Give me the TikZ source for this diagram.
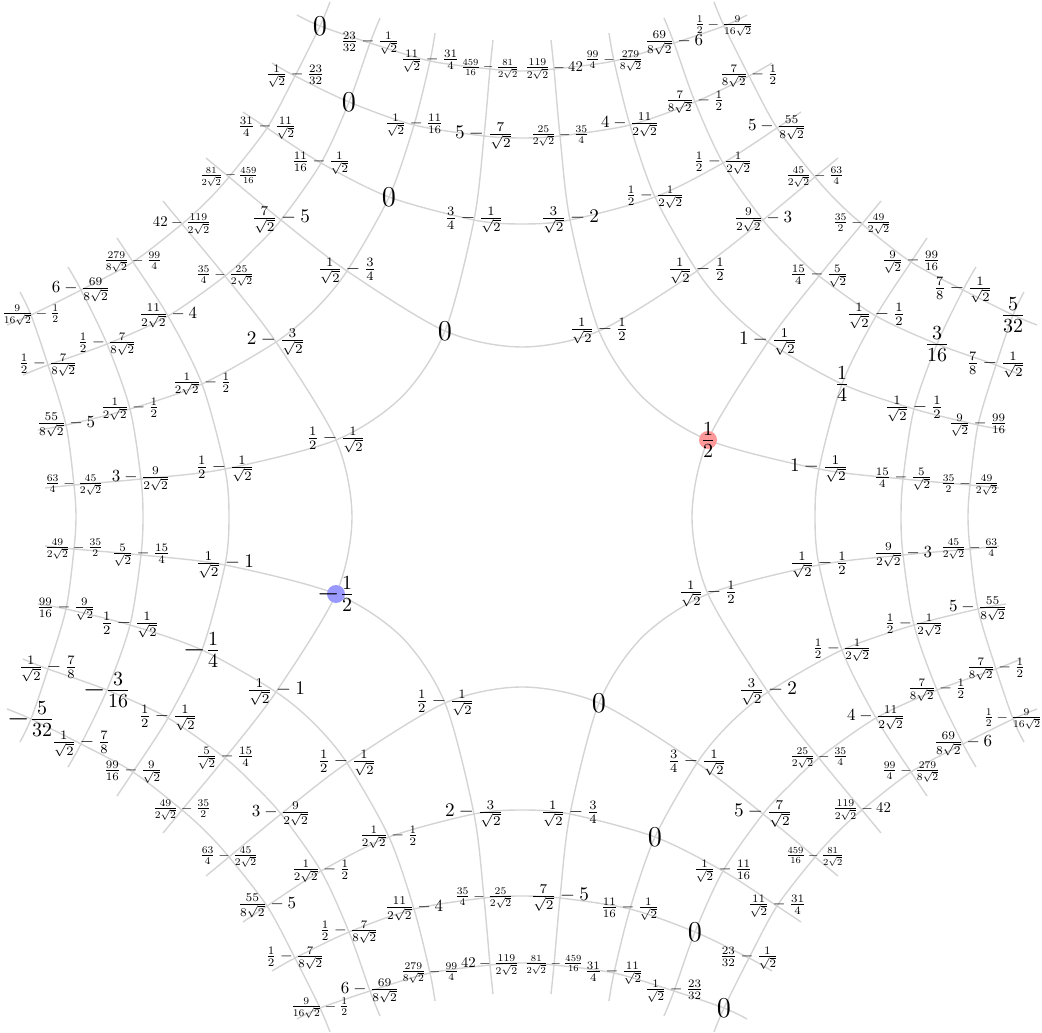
\documentclass[tikz,border=0pt]{standalone}
\usepackage{graphicx}
\newcommand{\fitv}[1]{\resizebox{29pt}{!}{$#1$}}

\begin{document}
\begin{tikzpicture}[
  x=0.5pt, y=-0.5pt,
  arcline/.style={draw=Cline, line width=0.7pt},
  val/.style={inner sep=0pt},
  big/.style={inner sep=0pt, font=\Large}
]
\colorlet{Cline}{black!17}
\colorlet{Cred}{red!40}
\colorlet{Cblue}{blue!40}
\useasboundingbox (-522,-517) rectangle (520,515);
%% CROSSING POINTS: one sector, turned four times
\foreach \sect/\ang in {T/0,R/-90,B/180,L/90}{
\begin{scope}[rotate=\ang]
\coordinate (\sect1a) at (-202,-491);
\coordinate (\sect1b) at (-152,-474);
\coordinate (\sect1c) at ( -92,-456);
\coordinate (\sect1d) at ( -32,-448);
\coordinate (\sect1e) at (  32,-448);
\coordinate (\sect1f) at (  92,-456);
\coordinate (\sect1g) at ( 152,-474);
\coordinate (\sect1h) at ( 202,-491);
\coordinate (\sect2a) at (-227,-441);
\coordinate (\sect2b) at (-173,-415);
\coordinate (\sect2c) at (-108,-392);
\coordinate (\sect2d) at ( -38,-381);
\coordinate (\sect2e) at (  38,-381);
\coordinate (\sect2f) at ( 108,-392);
\coordinate (\sect2g) at ( 173,-415);
\coordinate (\sect2h) at ( 227,-441);
\coordinate (\sect3a) at (-255,-389);
\coordinate (\sect3b) at (-201,-354);
\coordinate (\sect3c) at (-133,-320);
\coordinate (\sect3d) at ( -48,-297);
\coordinate (\sect3e) at (  48,-297);
\coordinate (\sect3f) at ( 133,-320);
\coordinate (\sect3g) at ( 201,-354);
\coordinate (\sect3h) at ( 255,-389);
\coordinate (\sect0a) at (-293,-340);
\coordinate (\sect0b) at (-241,-297);
\coordinate (\sect0c) at (-175,-246);
\coordinate (\sect0d) at ( -77,-186);
\coordinate (\sect0e) at (  77,-186);
\coordinate (\sect0f) at ( 175,-246);
\coordinate (\sect0g) at ( 241,-297);
\coordinate (\sect0h) at ( 293,-340);
% arc ends and middles
\coordinate (\sect1l) at (-225,-502); \coordinate (\sect1r) at (225,-502);
\coordinate (\sect2l) at (-250,-454); \coordinate (\sect2r) at (250,-454);
\coordinate (\sect3l) at (-279,-405); \coordinate (\sect3r) at (279,-405);
\coordinate (\sect0l) at (-316,-359); \coordinate (\sect0r) at (316,-359);
\coordinate (\sect1m) at (0,-446);
\coordinate (\sect2m) at (0,-379);
\coordinate (\sect3m) at (0,-293);
\coordinate (\sect0m) at (0,-170);
% outer ends of the lines, and where they cross the diagonal
\coordinate (\sect sa) at (-192,-515);
\coordinate (\sect sb) at (-142,-499);
\coordinate (\sect sc) at ( -87,-484);
\coordinate (\sect sd) at ( -29,-477);
\coordinate (\sect se) at (  29,-477);
\coordinate (\sect sf) at (  87,-484);
\coordinate (\sect sg) at ( 142,-499);
\coordinate (\sect sh) at ( 192,-515);
\coordinate (\sect xa) at (-315.4,-315.4);
\coordinate (\sect xb) at (-268,-268);
\coordinate (\sect xc) at (-207.2,-207.2);
\coordinate (\sect xd) at (-120.2,-120.2);
\end{scope}
}
%% ARCS
\foreach \sect in {T,R,B,L}{
  \foreach \row in {1,2,3,0}{
    \draw[arcline] plot[smooth] coordinates {(\sect\row l) (\sect\row a) (\sect\row b) (\sect\row c) (\sect\row d) (\sect\row m) (\sect\row e) (\sect\row f) (\sect\row g) (\sect\row h) (\sect\row r)};
  }
}
%% LINES OVER THE DIAGONALS
\foreach \sect/\nxt in {T/L,R/T,B/R,L/B}{
  \foreach \col/\mcol in {a/h,b/g,c/f,d/e}{
    \draw[arcline] plot[smooth] coordinates {(\sect s\col) (\sect1\col) (\sect2\col) (\sect3\col) (\sect0\col) (\sect x\col) (\nxt0\mcol) (\nxt3\mcol) (\nxt2\mcol) (\nxt1\mcol) (\nxt s\mcol)};
  }
}
%% MARKED POINTS
\fill[Cred]  (R0d) circle (4.5pt);
\fill[Cblue] (L0d) circle (4.5pt);
%% TOP
\node[big] (vT1a) at (T1a) {$0$};
\node[val] (vT1b) at (T1b) {\fitv{\frac{23}{32}-\frac{1}{\sqrt2}}};
\node[val] (vT1c) at (T1c) {\fitv{\frac{11}{\sqrt2}-\frac{31}{4}}};
\node[val] (vT1d) at (T1d) {\fitv{\frac{459}{16}-\frac{81}{2\sqrt2}}};
\node[val] (vT1e) at (T1e) {\fitv{\frac{119}{2\sqrt2}-42}};
\node[val] (vT1f) at (T1f) {\fitv{\frac{99}{4}-\frac{279}{8\sqrt2}}};
\node[val] (vT1g) at (T1g) {\fitv{\frac{69}{8\sqrt2}-6}};
\node[val] (vT1h) at (T1h) {\fitv{\frac12-\frac{9}{16\sqrt2}}};
\node[val] (vT2a) at (T2a) {\fitv{\frac{1}{\sqrt2}-\frac{23}{32}}};
\node[big] (vT2b) at (T2b) {$0$};
\node[val] (vT2c) at (T2c) {\fitv{\frac{1}{\sqrt2}-\frac{11}{16}}};
\node[val] (vT2d) at (T2d) {\fitv{5-\frac{7}{\sqrt2}}};
\node[val] (vT2e) at (T2e) {\fitv{\frac{25}{2\sqrt2}-\frac{35}{4}}};
\node[val] (vT2f) at (T2f) {\fitv{4-\frac{11}{2\sqrt2}}};
\node[val] (vT2g) at (T2g) {\fitv{\frac{7}{8\sqrt2}-\frac12}};
\node[val] (vT2h) at (T2h) {\fitv{\frac{7}{8\sqrt2}-\frac12}};
\node[val] (vT3a) at (T3a) {\fitv{\frac{31}{4}-\frac{11}{\sqrt2}}};
\node[val] (vT3b) at (T3b) {\fitv{\frac{11}{16}-\frac{1}{\sqrt2}}};
\node[big] (vT3c) at (T3c) {$0$};
\node[val] (vT3d) at (T3d) {\fitv{\frac34-\frac{1}{\sqrt2}}};
\node[val] (vT3e) at (T3e) {\fitv{\frac{3}{\sqrt2}-2}};
\node[val] (vT3f) at (T3f) {\fitv{\frac12-\frac{1}{2\sqrt2}}};
\node[val] (vT3g) at (T3g) {\fitv{\frac12-\frac{1}{2\sqrt2}}};
\node[val] (vT3h) at (T3h) {\fitv{5-\frac{55}{8\sqrt2}}};
\node[val] (vT0a) at (T0a) {\fitv{\frac{81}{2\sqrt2}-\frac{459}{16}}};
\node[val] (vT0b) at (T0b) {\fitv{\frac{7}{\sqrt2}-5}};
\node[val] (vT0c) at (T0c) {\fitv{\frac{1}{\sqrt2}-\frac34}};
\node[big] (vT0d) at (T0d) {$0$};
\node[val] (vT0e) at (T0e) {\fitv{\frac{1}{\sqrt2}-\frac12}};
\node[val] (vT0f) at (T0f) {\fitv{\frac{1}{\sqrt2}-\frac12}};
\node[val] (vT0g) at (T0g) {\fitv{\frac{9}{2\sqrt2}-3}};
\node[val] (vT0h) at (T0h) {\fitv{\frac{45}{2\sqrt2}-\frac{63}{4}}};
%% RIGHT
\node[big] (vR1a) at (R1a) {$\frac{5}{32}$};
\node[val] (vR1b) at (R1b) {\fitv{\frac78-\frac{1}{\sqrt2}}};
\node[val] (vR1c) at (R1c) {\fitv{\frac{9}{\sqrt2}-\frac{99}{16}}};
\node[val] (vR1d) at (R1d) {\fitv{\frac{35}{2}-\frac{49}{2\sqrt2}}};
\node[val] (vR1e) at (R1e) {\fitv{\frac{45}{2\sqrt2}-\frac{63}{4}}};
\node[val] (vR1f) at (R1f) {\fitv{5-\frac{55}{8\sqrt2}}};
\node[val] (vR1g) at (R1g) {\fitv{\frac{7}{8\sqrt2}-\frac12}};
\node[val] (vR1h) at (R1h) {\fitv{\frac12-\frac{9}{16\sqrt2}}};
\node[val] (vR2a) at (R2a) {\fitv{\frac78-\frac{1}{\sqrt2}}};
\node[big] (vR2b) at (R2b) {$\frac{3}{16}$};
\node[val] (vR2c) at (R2c) {\fitv{\frac{1}{\sqrt2}-\frac12}};
\node[val] (vR2d) at (R2d) {\fitv{\frac{15}{4}-\frac{5}{\sqrt2}}};
\node[val] (vR2e) at (R2e) {\fitv{\frac{9}{2\sqrt2}-3}};
\node[val] (vR2f) at (R2f) {\fitv{\frac12-\frac{1}{2\sqrt2}}};
\node[val] (vR2g) at (R2g) {\fitv{\frac{7}{8\sqrt2}-\frac12}};
\node[val] (vR2h) at (R2h) {\fitv{\frac{69}{8\sqrt2}-6}};
\node[val] (vR3a) at (R3a) {\fitv{\frac{9}{\sqrt2}-\frac{99}{16}}};
\node[val] (vR3b) at (R3b) {\fitv{\frac{1}{\sqrt2}-\frac12}};
\node[big] (vR3c) at (R3c) {$\frac14$};
\node[val] (vR3d) at (R3d) {\fitv{1-\frac{1}{\sqrt2}}};
\node[val] (vR3e) at (R3e) {\fitv{\frac{1}{\sqrt2}-\frac12}};
\node[val] (vR3f) at (R3f) {\fitv{\frac12-\frac{1}{2\sqrt2}}};
\node[val] (vR3g) at (R3g) {\fitv{4-\frac{11}{2\sqrt2}}};
\node[val] (vR3h) at (R3h) {\fitv{\frac{99}{4}-\frac{279}{8\sqrt2}}};
\node[val] (vR0a) at (R0a) {\fitv{\frac{35}{2}-\frac{49}{2\sqrt2}}};
\node[val] (vR0b) at (R0b) {\fitv{\frac{15}{4}-\frac{5}{\sqrt2}}};
\node[val] (vR0c) at (R0c) {\fitv{1-\frac{1}{\sqrt2}}};
\node[big] (vR0d) at (R0d) {$\frac12$};
\node[val] (vR0e) at (R0e) {\fitv{\frac{1}{\sqrt2}-\frac12}};
\node[val] (vR0f) at (R0f) {\fitv{\frac{3}{\sqrt2}-2}};
\node[val] (vR0g) at (R0g) {\fitv{\frac{25}{2\sqrt2}-\frac{35}{4}}};
\node[val] (vR0h) at (R0h) {\fitv{\frac{119}{2\sqrt2}-42}};
%% BOTTOM
\node[big] (vB1a) at (B1a) {$0$};
\node[val] (vB1b) at (B1b) {\fitv{\frac{1}{\sqrt2}-\frac{23}{32}}};
\node[val] (vB1c) at (B1c) {\fitv{\frac{31}{4}-\frac{11}{\sqrt2}}};
\node[val] (vB1d) at (B1d) {\fitv{\frac{81}{2\sqrt2}-\frac{459}{16}}};
\node[val] (vB1e) at (B1e) {\fitv{42-\frac{119}{2\sqrt2}}};
\node[val] (vB1f) at (B1f) {\fitv{\frac{279}{8\sqrt2}-\frac{99}{4}}};
\node[val] (vB1g) at (B1g) {\fitv{6-\frac{69}{8\sqrt2}}};
\node[val] (vB1h) at (B1h) {\fitv{\frac{9}{16\sqrt2}-\frac12}};
\node[val] (vB2a) at (B2a) {\fitv{\frac{23}{32}-\frac{1}{\sqrt2}}};
\node[big] (vB2b) at (B2b) {$0$};
\node[val] (vB2c) at (B2c) {\fitv{\frac{11}{16}-\frac{1}{\sqrt2}}};
\node[val] (vB2d) at (B2d) {\fitv{\frac{7}{\sqrt2}-5}};
\node[val] (vB2e) at (B2e) {\fitv{\frac{35}{4}-\frac{25}{2\sqrt2}}};
\node[val] (vB2f) at (B2f) {\fitv{\frac{11}{2\sqrt2}-4}};
\node[val] (vB2g) at (B2g) {\fitv{\frac12-\frac{7}{8\sqrt2}}};
\node[val] (vB2h) at (B2h) {\fitv{\frac12-\frac{7}{8\sqrt2}}};
\node[val] (vB3a) at (B3a) {\fitv{\frac{11}{\sqrt2}-\frac{31}{4}}};
\node[val] (vB3b) at (B3b) {\fitv{\frac{1}{\sqrt2}-\frac{11}{16}}};
\node[big] (vB3c) at (B3c) {$0$};
\node[val] (vB3d) at (B3d) {\fitv{\frac{1}{\sqrt2}-\frac34}};
\node[val] (vB3e) at (B3e) {\fitv{2-\frac{3}{\sqrt2}}};
\node[val] (vB3f) at (B3f) {\fitv{\frac{1}{2\sqrt2}-\frac12}};
\node[val] (vB3g) at (B3g) {\fitv{\frac{1}{2\sqrt2}-\frac12}};
\node[val] (vB3h) at (B3h) {\fitv{\frac{55}{8\sqrt2}-5}};
\node[val] (vB0a) at (B0a) {\fitv{\frac{459}{16}-\frac{81}{2\sqrt2}}};
\node[val] (vB0b) at (B0b) {\fitv{5-\frac{7}{\sqrt2}}};
\node[val] (vB0c) at (B0c) {\fitv{\frac34-\frac{1}{\sqrt2}}};
\node[big] (vB0d) at (B0d) {$0$};
\node[val] (vB0e) at (B0e) {\fitv{\frac12-\frac{1}{\sqrt2}}};
\node[val] (vB0f) at (B0f) {\fitv{\frac12-\frac{1}{\sqrt2}}};
\node[val] (vB0g) at (B0g) {\fitv{3-\frac{9}{2\sqrt2}}};
\node[val] (vB0h) at (B0h) {\fitv{\frac{63}{4}-\frac{45}{2\sqrt2}}};
%% LEFT
\node[big] (vL1a) at (L1a) {$-\frac{5}{32}$};
\node[val] (vL1b) at (L1b) {\fitv{\frac{1}{\sqrt2}-\frac78}};
\node[val] (vL1c) at (L1c) {\fitv{\frac{99}{16}-\frac{9}{\sqrt2}}};
\node[val] (vL1d) at (L1d) {\fitv{\frac{49}{2\sqrt2}-\frac{35}{2}}};
\node[val] (vL1e) at (L1e) {\fitv{\frac{63}{4}-\frac{45}{2\sqrt2}}};
\node[val] (vL1f) at (L1f) {\fitv{\frac{55}{8\sqrt2}-5}};
\node[val] (vL1g) at (L1g) {\fitv{\frac12-\frac{7}{8\sqrt2}}};
\node[val] (vL1h) at (L1h) {\fitv{\frac{9}{16\sqrt2}-\frac12}};
\node[val] (vL2a) at (L2a) {\fitv{\frac{1}{\sqrt2}-\frac78}};
\node[big] (vL2b) at (L2b) {$-\frac{3}{16}$};
\node[val] (vL2c) at (L2c) {\fitv{\frac12-\frac{1}{\sqrt2}}};
\node[val] (vL2d) at (L2d) {\fitv{\frac{5}{\sqrt2}-\frac{15}{4}}};
\node[val] (vL2e) at (L2e) {\fitv{3-\frac{9}{2\sqrt2}}};
\node[val] (vL2f) at (L2f) {\fitv{\frac{1}{2\sqrt2}-\frac12}};
\node[val] (vL2g) at (L2g) {\fitv{\frac12-\frac{7}{8\sqrt2}}};
\node[val] (vL2h) at (L2h) {\fitv{6-\frac{69}{8\sqrt2}}};
\node[val] (vL3a) at (L3a) {\fitv{\frac{99}{16}-\frac{9}{\sqrt2}}};
\node[val] (vL3b) at (L3b) {\fitv{\frac12-\frac{1}{\sqrt2}}};
\node[big] (vL3c) at (L3c) {$-\frac14$};
\node[val] (vL3d) at (L3d) {\fitv{\frac{1}{\sqrt2}-1}};
\node[val] (vL3e) at (L3e) {\fitv{\frac12-\frac{1}{\sqrt2}}};
\node[val] (vL3f) at (L3f) {\fitv{\frac{1}{2\sqrt2}-\frac12}};
\node[val] (vL3g) at (L3g) {\fitv{\frac{11}{2\sqrt2}-4}};
\node[val] (vL3h) at (L3h) {\fitv{\frac{279}{8\sqrt2}-\frac{99}{4}}};
\node[val] (vL0a) at (L0a) {\fitv{\frac{49}{2\sqrt2}-\frac{35}{2}}};
\node[val] (vL0b) at (L0b) {\fitv{\frac{5}{\sqrt2}-\frac{15}{4}}};
\node[val] (vL0c) at (L0c) {\fitv{\frac{1}{\sqrt2}-1}};
\node[big] (vL0d) at (L0d) {$-\frac12$};
\node[val] (vL0e) at (L0e) {\fitv{\frac12-\frac{1}{\sqrt2}}};
\node[val] (vL0f) at (L0f) {\fitv{2-\frac{3}{\sqrt2}}};
\node[val] (vL0g) at (L0g) {\fitv{\frac{35}{4}-\frac{25}{2\sqrt2}}};
\node[val] (vL0h) at (L0h) {\fitv{42-\frac{119}{2\sqrt2}}};
\end{tikzpicture}
\end{document}
